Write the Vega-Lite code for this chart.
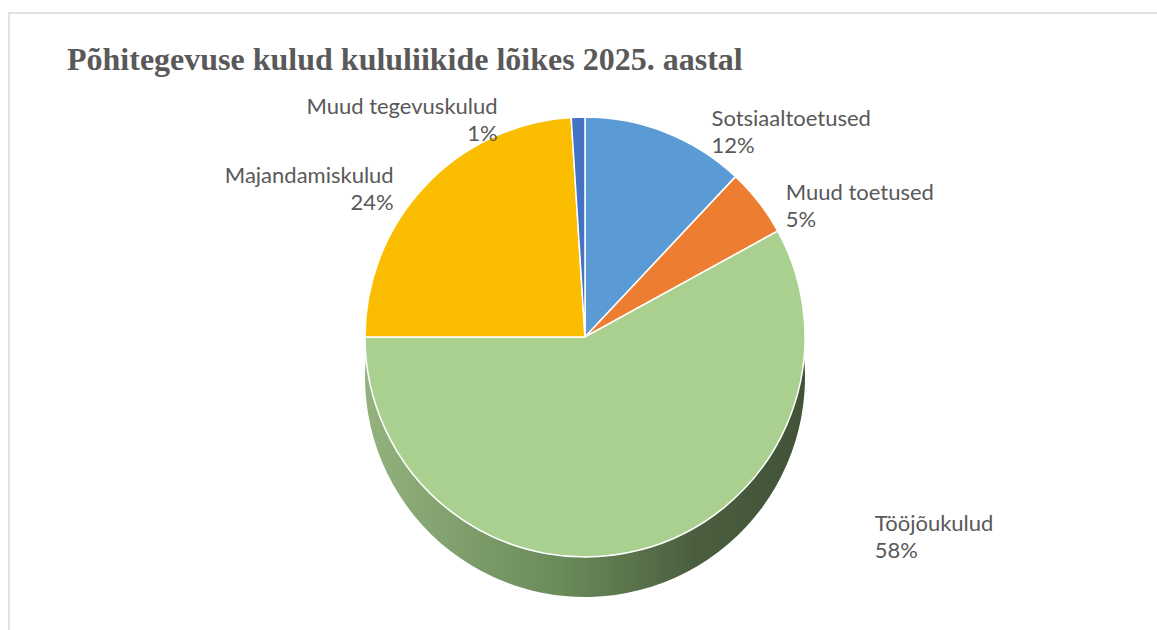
{
  "$schema": "https://vega.github.io/schema/vega-lite/v6.json",
  "autosize": "none",
  "width": 1152,
  "height": 648,
  "padding": {"left": 9, "top": 13, "right": 0, "bottom": 0},
  "background": "white",
  "view": {"stroke": "#d9d9d9", "strokeWidth": 1.5, "fill": "white"},
  "config": {
    "view": {"stroke": "#d9d9d9", "strokeWidth": 1.5},
    "text": {"font": "Lato", "fontSize": 22, "color": "#595959", "lineBreak": "\n", "lineHeight": 27}
  },
  "title": {
    "text": ["", "Põhitegevuse kulud kululiikide lõikes 2025. aastal"],
    "anchor": "start",
    "frame": "group",
    "orient": "top",
    "offset": -64,
    "lineHeight": 31,
    "dx": 58,
    "font": "Liberation Serif",
    "fontSize": 32,
    "fontWeight": "bold",
    "color": "#595959"
  },
  "data": {
    "values": [
      {"name": "Sotsiaaltoetused", "value": 12, "k": 1, "label": "Sotsiaaltoetused\n12%"},
      {"name": "Muud toetused", "value": 5, "k": 2, "label": "Muud toetused\n5%"},
      {"name": "Tööjõukulud", "value": 58, "k": 3, "label": "Tööjõukulud\n58%"},
      {"name": "Majandamiskulud", "value": 24, "k": 4, "label": "Majandamiskulud\n24%"},
      {"name": "Muud tegevuskulud", "value": 1, "k": 5, "label": "Muud tegevuskulud\n1%"}
    ]
  },
  "layer": [
    {
      "mark": {
        "type": "arc",
        "radius": 220,
        "yOffset": 40,
        "fill": {
          "gradient": "linear",
          "x1": 0, "y1": 0, "x2": 1, "y2": 0,
          "stops": [
            {"offset": 0, "color": "#93B27D"},
            {"offset": 0.45, "color": "#6A8A5A"},
            {"offset": 0.75, "color": "#4A5E3F"},
            {"offset": 1, "color": "#425337"}
          ]
        }
      },
      "encoding": {
        "theta": {"field": "value", "type": "quantitative", "stack": true},
        "order": {"field": "k", "type": "quantitative"}
      }
    },
    {
      "mark": {"type": "arc", "radius": 220, "stroke": "white", "strokeWidth": 1.5},
      "encoding": {
        "theta": {"field": "value", "type": "quantitative", "stack": true},
        "order": {"field": "k", "type": "quantitative"},
        "color": {
          "field": "name",
          "type": "nominal",
          "legend": null,
          "scale": {
            "domain": ["Sotsiaaltoetused", "Muud toetused", "Tööjõukulud", "Majandamiskulud", "Muud tegevuskulud"],
            "range": ["#5B9BD5", "#ED7D31", "#A9D08E", "#FABD00", "#4472C4"]
          }
        }
      }
    },
    {
      "mark": {"type": "text", "radius": 235, "align": "left", "dx": 40, "baseline": "middle"},
      "encoding": {
        "theta": {"field": "value", "type": "quantitative", "stack": true},
        "order": {"field": "k", "type": "quantitative"},
        "text": {"condition": {"test": "datum.name !== 'Sotsiaaltoetused'", "value": ""}, "field": "label", "type": "nominal"}
      }
    },
    {
      "mark": {"type": "text", "radius": 235, "align": "left", "dx": 15, "baseline": "middle"},
      "encoding": {
        "theta": {"field": "value", "type": "quantitative", "stack": true},
        "order": {"field": "k", "type": "quantitative"},
        "text": {"condition": {"test": "datum.name !== 'Muud toetused'", "value": ""}, "field": "label", "type": "nominal"}
      }
    },
    {
      "mark": {"type": "text", "radius": 240, "align": "left", "dx": 230, "dy": -45, "baseline": "middle"},
      "encoding": {
        "theta": {"field": "value", "type": "quantitative", "stack": true},
        "order": {"field": "k", "type": "quantitative"},
        "text": {"condition": {"test": "datum.name !== 'Tööjõukulud'", "value": ""}, "field": "label", "type": "nominal"}
      }
    },
    {
      "mark": {"type": "text", "radius": 235, "align": "right", "dx": -20, "baseline": "middle"},
      "encoding": {
        "theta": {"field": "value", "type": "quantitative", "stack": true},
        "order": {"field": "k", "type": "quantitative"},
        "text": {"condition": {"test": "datum.name !== 'Majandamiskulud'", "value": ""}, "field": "label", "type": "nominal"}
      }
    },
    {
      "mark": {"type": "text", "radius": 235, "align": "right", "dx": -80, "dy": 5, "baseline": "middle"},
      "encoding": {
        "theta": {"field": "value", "type": "quantitative", "stack": true},
        "order": {"field": "k", "type": "quantitative"},
        "text": {"condition": {"test": "datum.name !== 'Muud tegevuskulud'", "value": ""}, "field": "label", "type": "nominal"}
      }
    }
  ]
}
